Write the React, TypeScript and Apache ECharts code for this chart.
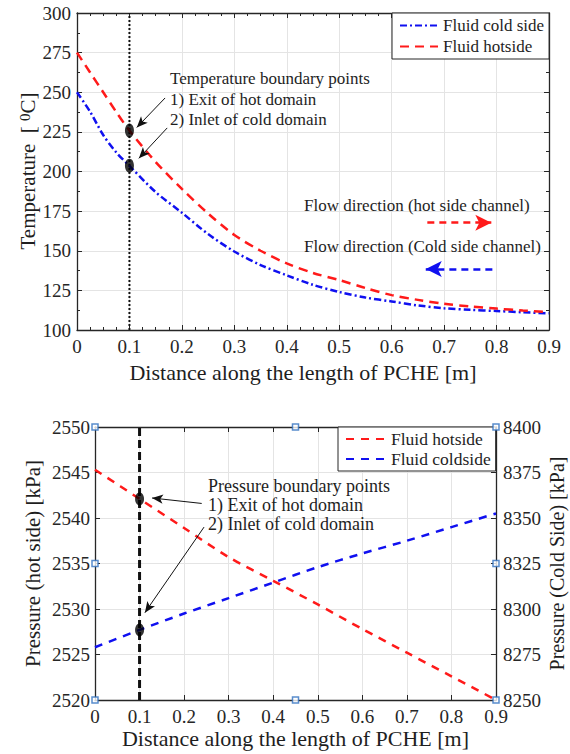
import React, { useEffect, useRef } from 'react';
import * as echarts from 'echarts';

// ---------- Top chart data (temperature) ----------
const distT = [0, 0.025, 0.05, 0.075, 0.1, 0.15, 0.2, 0.25, 0.3, 0.35, 0.4, 0.45, 0.5, 0.55, 0.6, 0.65, 0.7, 0.75, 0.8, 0.85, 0.9];
const tempCold = [250, 237.7, 223, 212, 203.5, 187, 174, 160.5, 149.5, 141, 134.5, 128.5, 124, 120.5, 118, 115.5, 113.7, 112.7, 112, 111.2, 110.5];
const tempHot = [275, 262.5, 250, 237.5, 225.8, 206, 189, 173.5, 160, 150, 142, 136, 131.5, 126.5, 122, 119, 116.5, 114.8, 113.5, 112.3, 111.2];
const boundaryX = 0.1;
const tempBoundary = [225.8, 203.7];

// ---------- Bottom chart data (pressure) ----------
const distP = [0, 0.1, 0.2, 0.3, 0.4, 0.5, 0.6, 0.7, 0.8, 0.9];
const pressHot = [2545.3, 2542.1, 2538.9, 2535.7, 2533.1, 2530.5, 2527.8, 2525.2, 2522.6, 2520];
const pressCold = [8279, 8288.5, 8297.5, 8306, 8314.5, 8323, 8330.5, 8337.5, 8345, 8352.5];
const pressBoundaryHot = 2542.1;
const pressBoundaryCold = 8288.5;
const leftMarkers = [[0, 2550], [0, 2535], [0, 2520], [0.45, 2550], [0.45, 2520]];
const rightMarkers = [[0.9, 8400], [0.9, 8325], [0.9, 8250]];

const xTicks = ['0', '0.1', '0.2', '0.3', '0.4', '0.5', '0.6', '0.7', '0.8', '0.9'];

const FONT = 'Liberation Serif, Times New Roman, serif';
const INK = '#262626';
const GRIDC = '#e4e4e4';
const RED = '#ff1a1a';
const BLUE = '#1010f0';

const zip = (a: number[], b: number[]) => a.map((v, i) => [v, b[i]]);

function xAxisDef(grid: number, pos: 'bottom' | 'top', labels: boolean, minor: number, split: boolean) {
  return {
    type: 'value', gridIndex: grid, position: pos, min: 0, max: 0.9, interval: 0.1,
    axisLine: { show: true, onZero: false, lineStyle: { color: INK, width: 1.3 } },
    axisTick: { show: true, inside: true, length: 5, lineStyle: { color: INK } },
    minorTick: { show: minor > 0, splitNumber: minor || 5, length: 3, lineStyle: { color: INK } },
    axisLabel: {
      show: labels, margin: 7, fontFamily: FONT, fontSize: 19, color: INK,
      formatter: (v: number) => xTicks[Math.round(v * 10)] ?? '',
    },
    splitLine: { show: split, lineStyle: { color: GRIDC, width: 1 } },
  };
}

function yAxisDef(grid: number, pos: 'left' | 'right', min: number, max: number, interval: number, labels: boolean, minor: number, split: boolean, margin: number) {
  return {
    type: 'value', gridIndex: grid, position: pos, min, max, interval,
    axisLine: { show: true, onZero: false, lineStyle: { color: INK, width: 1.3 } },
    axisTick: { show: true, inside: true, length: 5, lineStyle: { color: INK } },
    minorTick: { show: minor > 0, splitNumber: minor || 5, length: 3, lineStyle: { color: INK } },
    axisLabel: {
      show: labels, margin, fontFamily: FONT, fontSize: 19, color: INK,
      formatter: (v: number) => String(Math.round(v)),
    },
    splitLine: { show: split, lineStyle: { color: GRIDC, width: 1 } },
  };
}

function txt(x: number, y: number, text: string, size: number, align = 'left', rotate = 0) {
  return {
    type: 'text', x, y, rotation: rotate, silent: true, z: 10,
    style: { text, fontFamily: FONT, fontSize: size, fill: '#1e1e1e', align, verticalAlign: 'middle' },
  };
}

const arrowLine = (from: number[], to: number[], color: string, width: number, dash: any, size: any) => [
  { coord: from, symbol: 'none', lineStyle: { color, width, type: dash } },
  { coord: to, symbol: 'arrow', symbolSize: size },
];

const option: any = {
  animation: false,
  backgroundColor: '#ffffff',
  textStyle: { fontFamily: FONT },
  grid: [
    { left: 77, top: 13, width: 472, height: 317 },
    { left: 95, top: 427, width: 401, height: 273 },
  ],
  xAxis: [
    xAxisDef(0, 'bottom', true, 4, true),
    xAxisDef(0, 'top', false, 4, false),
    xAxisDef(1, 'bottom', true, 0, true),
    xAxisDef(1, 'top', false, 0, false),
  ],
  yAxis: [
    yAxisDef(0, 'left', 100, 300, 25, true, 2, true, 6),
    yAxisDef(0, 'right', 100, 300, 25, false, 2, false, 6),
    yAxisDef(1, 'left', 2520, 2550, 5, true, 0, true, 5),
    yAxisDef(1, 'right', 8250, 8400, 25, true, 0, false, 7),
  ],
  legend: [
    {
      data: ['Fluid cold side', 'Fluid hotside'], left: 392, top: 13, orient: 'vertical',
      itemWidth: 38, itemHeight: 12, itemGap: 4, padding: [4, 5, 4, 7],
      borderColor: INK, borderWidth: 1, backgroundColor: '#fff', selectedMode: false,
      itemStyle: { opacity: 0 },
      textStyle: { fontFamily: FONT, fontSize: 17, color: '#1e1e1e' },
    },
    {
      data: ['hotP', 'Fluid coldside'], left: 338, top: 427, orient: 'vertical',
      itemWidth: 40, itemHeight: 12, itemGap: 2, padding: [3, 5, 3, 7],
      borderColor: INK, borderWidth: 1, backgroundColor: '#fff', selectedMode: false,
      itemStyle: { opacity: 0 },
      formatter: (n: string) => (n === 'hotP' ? 'Fluid hotside' : n),
      textStyle: { fontFamily: FONT, fontSize: 17.5, color: '#1e1e1e' },
    },
  ],
  series: [
    {
      name: 'Fluid cold side', type: 'line', xAxisIndex: 0, yAxisIndex: 0, symbol: 'none', smooth: 0.3,
      data: zip(distT, tempCold), lineStyle: { color: BLUE, width: 2.5, type: [7, 3, 2, 3] }, itemStyle: { color: BLUE }, z: 3,
    },
    {
      name: 'Fluid hotside', type: 'line', xAxisIndex: 0, yAxisIndex: 0, symbol: 'none', smooth: 0.3,
      data: zip(distT, tempHot), lineStyle: { color: RED, width: 2.5, type: [9, 6] }, itemStyle: { color: RED }, z: 3,
    },
    {
      name: 'boundaryT', type: 'line', xAxisIndex: 0, yAxisIndex: 0, symbol: 'none', silent: true,
      data: [[boundaryX, 100], [boundaryX, 300]], lineStyle: { color: '#111', width: 2, type: [2, 2] }, z: 2,
    },
    {
      name: 'pointsT', type: 'scatter', xAxisIndex: 0, yAxisIndex: 0, symbol: 'circle', symbolSize: [9, 14],
      data: tempBoundary.map((v) => [boundaryX, v]), itemStyle: { color: '#000' }, z: 5, silent: true,
      markLine: {
        silent: true, animation: false, label: { show: false }, symbol: ['none', 'arrow'],
        data: [
          arrowLine([0.168, 246.4], [0.114, 227.8], '#111', 1, 'solid', [7, 11]),
          arrowLine([0.172, 227.5], [0.118, 208.3], '#111', 1, 'solid', [7, 11]),
          arrowLine([0.668, 167.7], [0.79, 167.7], RED, 2.5, [7, 5], [12, 16]),
          arrowLine([0.792, 138.5], [0.665, 138.5], BLUE, 2.5, [7, 5], [12, 16]),
        ],
      },
    },
    {
      name: 'hotP', type: 'line', xAxisIndex: 2, yAxisIndex: 2, symbol: 'none', smooth: 0.3,
      data: zip(distP, pressHot), lineStyle: { color: RED, width: 2.5, type: [8, 7] }, itemStyle: { color: RED }, z: 3,
    },
    {
      name: 'Fluid coldside', type: 'line', xAxisIndex: 2, yAxisIndex: 3, symbol: 'none', smooth: 0.3,
      data: zip(distP, pressCold), lineStyle: { color: BLUE, width: 2.5, type: [8, 7] }, itemStyle: { color: BLUE }, z: 3,
    },
    {
      name: 'boundaryP', type: 'line', xAxisIndex: 2, yAxisIndex: 2, symbol: 'none', silent: true,
      data: [[boundaryX, 2520], [boundaryX, 2550]], lineStyle: { color: '#111', width: 3, type: [8, 4] }, z: 2,
    },
    {
      name: 'pointHotP', type: 'scatter', xAxisIndex: 2, yAxisIndex: 2, symbol: 'circle', symbolSize: [9, 13],
      data: [[boundaryX, pressBoundaryHot]], itemStyle: { color: '#000' }, z: 5, silent: true,
      markLine: {
        silent: true, animation: false, label: { show: false }, symbol: ['none', 'arrow'],
        data: [
          arrowLine([0.2395, 2541.6], [0.128, 2542.2], '#111', 1, 'solid', [7, 11]),
          arrowLine([0.2447, 2539.0], [0.112, 2529.6], '#111', 1, 'solid', [7, 11]),
        ],
      },
    },
    {
      name: 'pointColdP', type: 'scatter', xAxisIndex: 2, yAxisIndex: 3, symbol: 'circle', symbolSize: [9, 13],
      data: [[boundaryX, pressBoundaryCold]], itemStyle: { color: '#000' }, z: 5, silent: true,
    },
    {
      name: 'markersL', type: 'scatter', xAxisIndex: 2, yAxisIndex: 2, symbol: 'rect', symbolSize: 6, clip: false,
      data: leftMarkers, itemStyle: { color: '#ffffff', borderColor: '#2f6fbf', borderWidth: 1.5 }, z: 8, silent: true,
    },
    {
      name: 'markersR', type: 'scatter', xAxisIndex: 2, yAxisIndex: 3, symbol: 'rect', symbolSize: 6, clip: false,
      data: rightMarkers, itemStyle: { color: '#ffffff', borderColor: '#2f6fbf', borderWidth: 1.5 }, z: 8, silent: true,
    },
  ],
  graphic: [
    txt(170, 78, 'Temperature boundary points', 17),
    txt(170, 99, '1) Exit of hot domain', 17),
    txt(170, 119, '2) Inlet of cold domain', 17),
    txt(304, 205, 'Flow direction (hot side channel)', 17),
    txt(304, 246, 'Flow direction (Cold side channel)', 17),
    txt(303, 372, 'Distance along the length of PCHE [m]', 22, 'center'),
    {
      type: 'text', x: 28, y: 171, rotation: Math.PI / 2, silent: true, z: 10,
      style: {
        text: '{a|Temperature  [ }{s|0}{a|C]}', align: 'center', verticalAlign: 'middle',
        rich: {
          a: { fontFamily: FONT, fontSize: 21, fill: '#1e1e1e' },
          s: { fontFamily: FONT, fontSize: 15, fill: '#1e1e1e', verticalAlign: 'top' },
        },
      },
    },
    txt(208, 486, 'Pressure boundary points', 18),
    txt(208, 505, '1) Exit of hot domain', 18),
    txt(208, 524, '2) Inlet of cold domain', 18),
    txt(295.5, 738, 'Distance along the length of PCHE [m]', 22, 'center'),
    txt(33, 563.5, 'Pressure (hot side) [kPa]', 21, 'center', Math.PI / 2),
    txt(557, 563.5, 'Pressure (Cold Side) [kPa]', 20, 'center', Math.PI / 2),
  ],
};

export default function App() {
  const ref = useRef<HTMLDivElement>(null);
  useEffect(() => {
    const chart = echarts.init(ref.current!, null, { renderer: 'svg' });
    chart.setOption(option);
    return () => chart.dispose();
  }, []);
  return (
    <div
      ref={ref}
      style={{ position: 'absolute', left: 0, top: 0, width: 570, height: 754, background: '#fff' }}
    />
  );
}
